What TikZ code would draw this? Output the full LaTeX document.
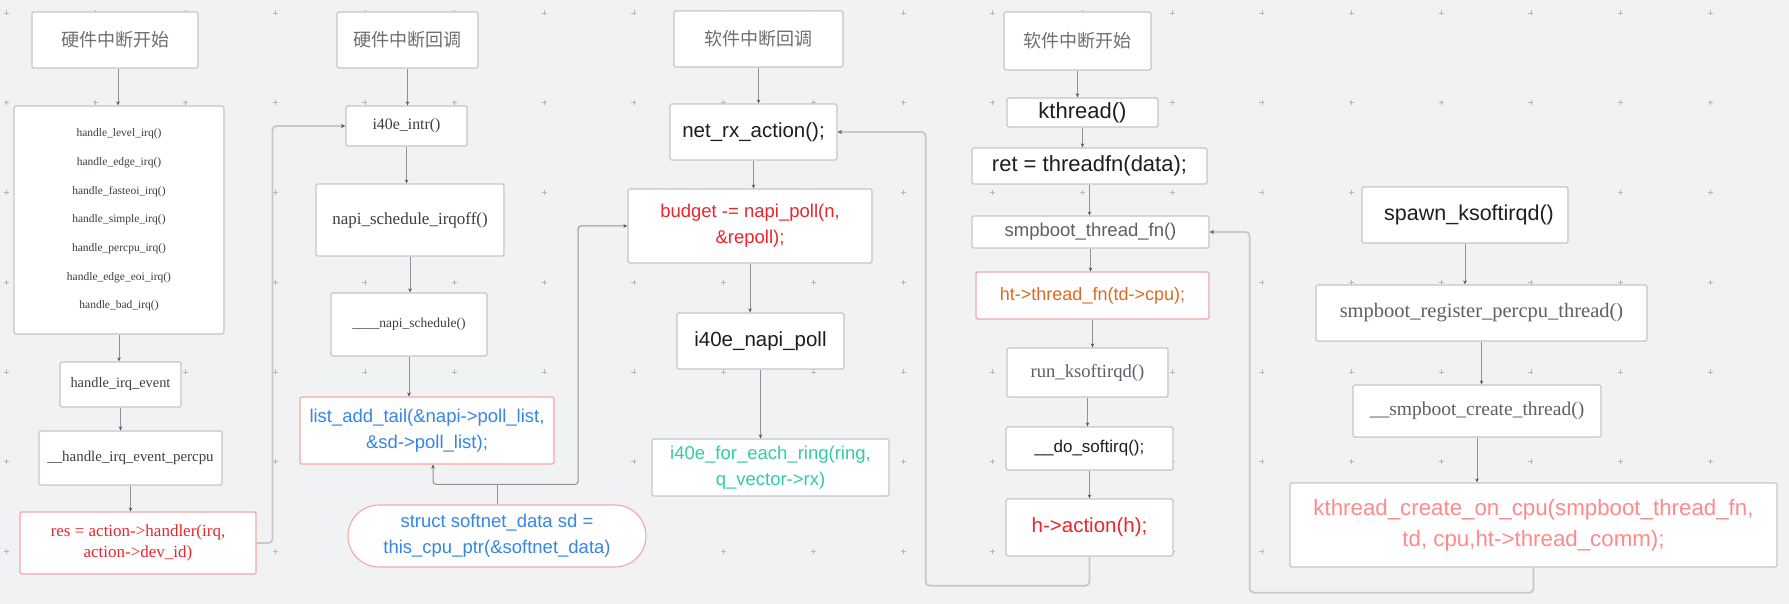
\documentclass[tikz,border=0pt]{standalone}
\usepackage{fontspec}
\setmainfont{Liberation Serif}
\newfontfamily\sansf{Liberation Sans}
\newfontfamily\cjkf{Noto Sans CJK SC}
\usetikzlibrary{arrows.meta,calc}

\definecolor{bg}{HTML}{F1F2F4}
\definecolor{crossc}{HTML}{B4B7BC}
\definecolor{boxb}{HTML}{C4C6CA}
\definecolor{pinkb}{HTML}{F4A7A7}
\definecolor{conng}{HTML}{8E9196}
\definecolor{loopg}{HTML}{C6C8CC}
\definecolor{arrowg}{HTML}{55585D}
\definecolor{titleg}{HTML}{6E6E6E}
\definecolor{serifg}{HTML}{3A3E44}
\definecolor{redt}{HTML}{E8262C}
\definecolor{bluet}{HTML}{3586E6}
\definecolor{tealt}{HTML}{33CBA8}
\definecolor{oranget}{HTML}{DD6A22}
\definecolor{lredt}{HTML}{FF8A8C}
\definecolor{blackt}{HTML}{1E1E1E}
\definecolor{grayt}{HTML}{5C6067}

\newcommand{\fsz}[2]{\fontsize{#1}{#2}\selectfont}

\begin{document}
\begin{tikzpicture}[x=1pt,y=-1pt,
 box/.style={draw=boxb,line width=1.3pt,fill=white,rounded corners=1.5pt,inner sep=0pt,align=center},
 pbox/.style={box,draw=pinkb,line width=1.1pt},
 conn/.style={draw=conng,line width=0.8pt,-{Stealth[length=4pt,width=3.6pt,color=arrowg]}},
 tconn/.style={draw=conng,line width=1pt,rounded corners=3pt,-{Stealth[length=4pt,width=3.6pt,color=arrowg]}},
 loopc/.style={draw=loopg,line width=1.8pt,rounded corners=4pt,-{Stealth[length=4.5pt,width=4pt,color=arrowg]}},
 title/.style={box,font=\cjkf\fsz{18}{22},text=titleg},
 serifbox/.style={box,text=serifg},
 sansbox/.style={box,text=blackt},
]
\useasboundingbox (0,0) rectangle (1789,604);
\fill[bg] (0,0) rectangle (1789,604);
\foreach \i in {0,...,19}{
  \foreach \j in {0,...,6}{
    \draw[crossc,line width=0.6pt] ({6+89.7*\i-2.5},{13+89.7*\j}) -- ++(5,0)
      ({6+89.7*\i},{13+89.7*\j-2.5}) -- ++(0,5);
  }
}

% column 1
\node[title,minimum width=166pt,minimum height=56pt] (A1) at (115,40) {硬件中断开始};
\node[serifbox,minimum width=210pt,minimum height=228pt,font=\fsz{11.5}{28.67}] (A2) at (119,220)
 {handle\_level\_irq()\\handle\_edge\_irq()\\handle\_fasteoi\_irq()\\handle\_simple\_irq()\\handle\_percpu\_irq()\\handle\_edge\_eoi\_irq()\\handle\_bad\_irq()};
\node[serifbox,minimum width=121pt,minimum height=45pt,font=\fsz{14.4}{17}] (A3) at (120.5,384.5) {handle\_irq\_event};
\node[serifbox,minimum width=183pt,minimum height=54pt,font=\fsz{14.9}{17}] (A4) at (130.5,458) {\_\_handle\_irq\_event\_percpu};
\node[pbox,minimum width=236pt,minimum height=62pt,text=redt,font=\fsz{17}{20.5}] (A5) at (138,543) {res = action->handler(irq,\\action->dev\_id)};

% column 2
\node[title,minimum width=141pt,minimum height=56pt] (B1) at (407.5,40) {硬件中断回调};
\node[serifbox,minimum width=121pt,minimum height=40pt,font=\fsz{15.9}{18}] (B2) at (406.5,126) {i40e\_intr()};
\node[serifbox,minimum width=188pt,minimum height=72pt,font=\fsz{17}{20}] (B3) at (410,220) {napi\_schedule\_irqoff()};
\node[serifbox,minimum width=156pt,minimum height=63pt,font=\fsz{13.5}{16}] (B4) at (409,324.5) {\_\_\_\_napi\_schedule()};
\node[pbox,minimum width=254pt,minimum height=67pt,text=bluet,font=\sansf\fsz{18.5}{25.6}] (B5) at (427,430.5) {list\_add\_tail(\&napi->poll\_list,\\\&sd->poll\_list);};
\node[pbox,rounded corners=31pt,minimum width=298pt,minimum height=62pt,text=bluet,font=\sansf\fsz{18.5}{26}] (B6) at (497,536) {struct softnet\_data sd =\\this\_cpu\_ptr(\&softnet\_data)};

% column 3
\node[title,minimum width=169pt,minimum height=56pt] (C1) at (758.5,39) {软件中断回调};
\node[sansbox,minimum width=167pt,minimum height=56pt,font=\sansf\fsz{20.5}{24}] (C2) at (753.5,132) {net\_rx\_action();};
\node[box,minimum width=244pt,minimum height=74pt,text=redt,font=\sansf\fsz{18.5}{26}] (C3) at (750,226) {budget -= napi\_poll(n,\\\&repoll);};
\node[sansbox,minimum width=167pt,minimum height=56pt,font=\sansf\fsz{20.5}{24}] (C4) at (760.5,341) {i40e\_napi\_poll};
\node[box,minimum width=237pt,minimum height=57pt,text=tealt,font=\sansf\fsz{18.5}{26}] (C5) at (770.5,467.5) {i40e\_for\_each\_ring(ring,\\q\_vector->rx)};

% column 4
\node[title,minimum width=147pt,minimum height=58pt] (D1) at (1077.5,41) {软件中断开始};
\node[sansbox,minimum width=151pt,minimum height=29pt,font=\sansf\fsz{22}{24}] (D2) at (1082.5,112.5) {kthread()};
\node[sansbox,minimum width=235pt,minimum height=36pt,font=\sansf\fsz{22}{24}] (D3) at (1089.5,166) {ret = threadfn(data);};
\node[box,minimum width=237pt,minimum height=32pt,text=grayt,font=\sansf\fsz{18.5}{22}] (D4) at (1090.5,232) {smpboot\_thread\_fn()};
\node[pbox,minimum width=233pt,minimum height=47pt,text=oranget,font=\sansf\fsz{18}{22}] (D5) at (1092.5,295.5) {ht->thread\_fn(td->cpu);};
\node[box,minimum width=161pt,minimum height=49pt,text=grayt,font=\fsz{18.6}{22}] (D6) at (1087.5,372.5) {run\_ksoftirqd()};
\node[sansbox,minimum width=167pt,minimum height=43pt,font=\sansf\fsz{17}{20}] (D7) at (1089.5,448.5) {\_\_do\_softirq();};
\node[box,minimum width=167pt,minimum height=57pt,text=redt,font=\sansf\fsz{20.5}{24}] (D8) at (1089.5,527.5) {h->action(h);};

% column 5
\node[sansbox,minimum width=206pt,minimum height=56pt,font=\sansf\fsz{21.5}{24}] (E1) at (1465,215) {\hspace*{8pt}spawn\_ksoftirqd()};
\node[box,minimum width=331pt,minimum height=56pt,text=grayt,font=\fsz{20.5}{24}] (E2) at (1481.5,313) {smpboot\_register\_percpu\_thread()};
\node[box,minimum width=248pt,minimum height=52pt,text=grayt,font=\fsz{19.5}{22}] (E3) at (1477,411) {\_\_smpboot\_create\_thread()};
\node[box,minimum width=487pt,minimum height=84pt,text=lredt,font=\sansf\fsz{22.3}{31}] (E4) at (1533.5,525) {kthread\_create\_on\_cpu(smpboot\_thread\_fn,\\td, cpu,ht->thread\_comm);};

% vertical connectors
\draw[conn] ([xshift=3pt]A1.south) -- ([xshift=3pt]A1.south |- A2.north);
\draw[conn] (A2.south) -- (A2.south |- A3.north);
\draw[conn] (A3.south) -- (A3.south |- A4.north);
\draw[conn] (A4.south) -- (A4.south |- A5.north);
\draw[conn] (B1.south) -- (B1.south |- B2.north);
\draw[conn] (B2.south) -- (B2.south |- B3.north);
\draw[conn] (B3.south) -- (B3.south |- B4.north);
\draw[conn] (B4.south) -- (B4.south |- B5.north);
\draw[conn] (C1.south) -- (C1.south |- C2.north);
\draw[conn] (C2.south) -- (C2.south |- C3.north);
\draw[conn] (C3.south) -- (C3.south |- C4.north);
\draw[conn] (C4.south) -- (C4.south |- C5.north);
\draw[conn] (D1.south) -- (D1.south |- D2.north);
\draw[conn] (D2.south) -- (D2.south |- D3.north);
\draw[conn] (D3.south) -- (D3.south |- D4.north);
\draw[conn] (D4.south) -- (D4.south |- D5.north);
\draw[conn] (D5.south) -- (D5.south |- D6.north);
\draw[conn] (D6.south) -- (D6.south |- D7.north);
\draw[conn] (D7.south) -- (D7.south |- D8.north);
\draw[conn] (E1.south) -- (E1.south |- E2.north);
\draw[conn] (E2.south) -- (E2.south |- E3.north);
\draw[conn] (E3.south) -- (E3.south |- E4.north);

% branching from softnet_data
\coordinate (split) at ($(B6.north)+(0,-20)$);
\draw[draw=conng,line width=1pt] (B6.north) -- (split);
\draw[tconn] (split) -| ([xshift=6pt]B5.south);
\draw[tconn] (split) -- ++(81,0) |- (C3.west);

% loops
\draw[loopc] (A5.east) -- ++(16,0) |- (B2.west);
\draw[loopc] (D8.south) -- ++(0,29) -| ($(C2.east)+(88,0)$) -- (C2.east);
\draw[loopc] (E4.south) -- ++(0,25) -| ($(D4.east)+(40,0)$) -- (D4.east);
\end{tikzpicture}
\end{document}
